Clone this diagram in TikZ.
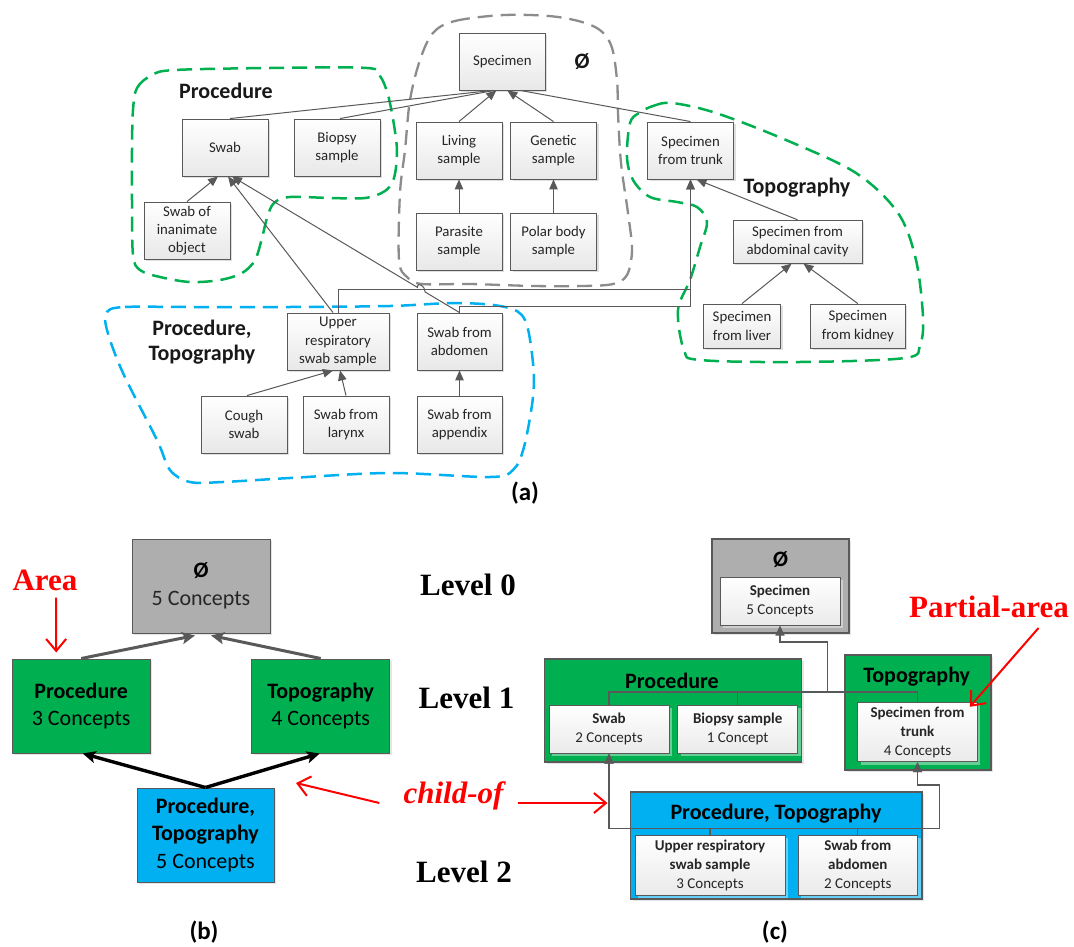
\documentclass[tikz,border=0pt]{standalone}
\usepackage{fontspec}
\setmainfont{Carlito}
\newfontfamily\tnr{Liberation Serif}
\usetikzlibrary{arrows.meta,shadows,calc}

\definecolor{boxline}{HTML}{595959}
\definecolor{linegray}{HTML}{595959}
\definecolor{areagreen}{HTML}{00B050}
\definecolor{areablue}{HTML}{00B0F0}
\definecolor{areagray}{HTML}{AEAEAE}
\definecolor{dashgray}{HTML}{8C8C8C}
\definecolor{txt}{HTML}{262626}

\newcommand\fsm{\fontsize{14.8}{18.3}\selectfont}
\newcommand\fin{\fontsize{15}{19}\selectfont}
\newcommand\fbg{\fontsize{22}{27.5}\selectfont}
\newcommand\fsub{\fontsize{25}{30}\selectfont}
\newcommand\fser{\tnr\bfseries\fontsize{31}{36}\selectfont}

\tikzset{
  abox/.style={draw=boxline, line width=0.9pt, top color=white, bottom color=black!9,
    drop shadow={shadow xshift=2pt, shadow yshift=-2pt, opacity=0.25},
    inner sep=0pt, align=center, font=\fsm, text=txt,
    minimum width=86pt, minimum height=57pt},
  bbox/.style={draw=boxline, line width=1pt, inner sep=0pt, align=center, font=\fbg,
    drop shadow={shadow xshift=2pt, shadow yshift=-2pt, opacity=0.2},
    minimum width=138pt, minimum height=94pt},
  obox/.style={draw=boxline, line width=1.4pt, inner sep=0pt,
    drop shadow={shadow xshift=2pt, shadow yshift=-2pt, opacity=0.2}},
  ibox/.style={draw=boxline, line width=1pt, top color=white, bottom color=black!8,
    drop shadow={shadow xshift=3pt, shadow yshift=-3pt, fill=white, opacity=0.4},
    inner sep=0pt, align=center, font=\fin, text=txt,
    minimum width=120pt, minimum height=48pt},
  ttl/.style={font=\fbg\bfseries, inner sep=0pt},
  regionlbl/.style={font=\fbg\bfseries, inner sep=0pt, align=center, text=black!90},
  sublbl/.style={font=\fsub\bfseries, inner sep=0pt},
  lvl/.style={font=\fser, inner sep=0pt},
  redlbl/.style={font=\fser, text=red, inner sep=0pt},
  aline/.style={draw=linegray, line width=1pt},
  aarrow/.style={aline, -{Triangle[length=10pt,width=8.5pt]}},
  cline/.style={draw=linegray, line width=1.2pt},
  carrow/.style={cline, -{Triangle[length=10pt,width=9pt]}},
  garrow/.style={draw=linegray, line width=3pt, -{Stealth[length=13pt,width=12pt,inset=3pt]}},
  karrow/.style={draw=black, line width=3.4pt, -{Stealth[length=13pt,width=12pt,inset=3pt]}},
  redarrow/.style={draw=red, line width=2pt, -{Straight Barb[length=12pt,width=20pt]}},
  greenregion/.style={draw=areagreen, line width=2.5pt, dash pattern=on 15pt off 8pt},
  grayregion/.style={draw=dashgray, line width=2.3pt, dash pattern=on 15pt off 8pt},
  blueregion/.style={draw=areablue, line width=2.5pt, dash pattern=on 15pt off 8pt},
}

\begin{document}
\begin{tikzpicture}[x=1pt,y=-1pt]
\fill[white] (0,0) rectangle (1074,947);
\useasboundingbox (0,0) rectangle (1074,947);

% ---------- (a) concept hierarchy with area outlines ----------
\draw[greenregion] plot[smooth cycle, tension=0.55] coordinates {
  (133,110) (137,88) (152,75) (175,70) (270,68) (367,68) (380,76) (388,95)
  (394,125) (397,152) (394,178) (385,191) (365,198) (330,198) (290,197)
  (274,203) (267,218) (262,238) (255,260) (242,273) (220,280) (190,282)
  (160,277) (140,270) (133,255) (132,200) (132,150)};
\draw[grayregion] plot[smooth cycle, tension=0.55] coordinates {
  (433,33) (455,21) (505,15) (558,17) (595,27) (611,45) (617,80) (618,113)
  (621,163) (628,213) (632,250) (627,275) (613,284) (583,286) (533,286)
  (470,284) (422,284) (407,277) (399,260) (400,193) (405,150) (410,100) (420,60)};
\draw[greenregion] plot[smooth cycle, tension=0.55] coordinates {
  (639,113) (653,106) (672,103) (716,113) (786,140) (856,173) (898,213)
  (916,260) (923,317) (920,345) (905,358) (800,362) (700,360) (684,350)
  (678,310) (690,280) (700,247) (707,222) (697,207) (677,202) (650,197)
  (633,180) (627,157) (630,123)};
\draw[blueregion] plot[smooth cycle, tension=0.55] coordinates {
  (107,312) (125,307) (190,307) (290,307) (390,306) (457,303) (505,307)
  (525,320) (533,363) (533,397) (524,447) (513,470) (490,477) (390,473)
  (290,478) (223,482) (190,482) (170,470) (157,440) (123,373) (107,330)};

\node[regionlbl] (lproc) at (226,91) {Procedure};
\node[regionlbl] (lphi) at (582,62) {Ø};
\node[regionlbl] (ltopo) at (797,188) {Topography};
\node[regionlbl, font=\fontsize{22}{25}\selectfont\bfseries] (lpt) at (202,342) {Procedure,\\Topography};
\node[sublbl] (suba) at (525,493) {(a)};

\node[abox] (spec) at (502.3,61.5) {Specimen};
\node[abox] (swab) at (225,147.5) {Swab};
\node[abox] (biop) at (337,147.5) {Biopsy\\sample};
\node[abox] (living) at (459,150.5) {Living\\sample};
\node[abox] (genetic) at (553.5,150.5) {Genetic\\sample};
\node[abox] (trunk) at (690.5,150.5) {Specimen\\from trunk};
\node[abox] (parasite) at (459,241.5) {Parasite\\sample};
\node[abox] (polar) at (553.5,241.5) {Polar body\\sample};
\node[abox] (inanim) at (187,230.5) {Swab of\\inanimate\\object};
\node[abox, minimum width=129pt, minimum height=43pt] (abdcav) at (797.5,241.7) {Specimen from\\abdominal cavity};
\node[abox, minimum width=77pt, minimum height=44pt] (liver) at (742,326) {Specimen\\from liver};
\node[abox, minimum width=94.5pt, minimum height=44pt] (kidney) at (857.8,326) {Specimen\\from kidney};
\node[abox, minimum width=102pt] (upper) at (338,341.5) {Upper\\respiratory\\swab sample};
\node[abox, minimum width=85pt] (swabab) at (459.5,341.5) {Swab from\\abdomen};
\node[abox] (cough) at (244,424.5) {Cough\\swab};
\node[abox] (larynx) at (346,424.5) {Swab from\\larynx};
\node[abox, minimum width=85pt] (append) at (459.5,424.5) {Swab from\\appendix};

\draw[aline] ([xshift=5pt]swab.north) -- ([xshift=-10pt]spec.south);
\draw[aline] ([xshift=3pt]biop.north) -- ([xshift=-8pt]spec.south);
\draw[aarrow] (living.north) -- ([xshift=-6pt]spec.south);
\draw[aarrow] (genetic.north) -- ([xshift=5pt]spec.south);
\draw[aline] (trunk.north) -- ([xshift=18pt]spec.south);
\draw[aarrow] (parasite.north) -- (living.south);
\draw[aarrow] (polar.north) -- (genetic.south);
\draw[aarrow] (inanim.north) -- ([xshift=-7pt]swab.south);
\draw[aarrow] ([xshift=-5pt]upper.north) -- ([xshift=3pt]swab.south);
\coordinate (swabR) at ([xshift=7pt]swab.south);
\draw[aarrow] (swabab.north) -- ($(swabab.north)!0.151!(swabR)$)
  .. controls +(0,-6) and +(0,-6) .. ($(swabab.north)!0.185!(swabR)$) -- (swabR);
\draw[aarrow] (upper.north) -- ++(0,-23) -| (trunk.south);
\draw[aarrow] (swabab.north) -- ++(0,-6) -| (trunk.south);
\draw[aarrow] (abdcav.north) -- ([xshift=6pt]trunk.south);
\draw[aarrow] (liver.north) -- ([xshift=-6pt]abdcav.south);
\draw[aarrow] (kidney.north) -- ([xshift=6pt]abdcav.south);
\draw[aarrow] ([xshift=3pt]cough.north) -- ([xshift=-5pt]upper.south);
\draw[aarrow] (larynx.north) -- ([xshift=2pt]upper.south);
\draw[aarrow] (append.north) -- (swabab.south);

% ---------- (b) area taxonomy ----------
\node[bbox, fill=areagray] (phiB) at (201,586) {\textbf{Ø}\\\textcolor{txt}{5 Concepts}};
\node[bbox, fill=areagreen] (procB) at (81.2,706) {\textbf{Procedure}\\3 Concepts};
\node[bbox, fill=areagreen] (topoB) at (320.7,706) {\textbf{Topography}\\4 Concepts};
\node[bbox, fill=areablue, minimum width=137pt] (ptB) at (205.5,835) {\textbf{Procedure,}\\\textbf{Topography}\\5 Concepts};

\draw[garrow] (procB.north) -- ([xshift=-6pt,yshift=-2pt]phiB.south);
\draw[garrow] (topoB.north) -- ([xshift=10pt,yshift=-2pt]phiB.south);
\draw[karrow] (ptB.north) -- ([xshift=1.5pt]procB.south);
\draw[karrow] (ptB.north) -- ([xshift=-1pt]topoB.south);

\node[sublbl] (subb) at (204,932) {(b)};

% ---------- (c) partial-area taxonomy ----------
\node[obox, fill=areagray, minimum width=137pt, minimum height=94pt] (phiC) at (780.5,586) {};
\node[ttl] (phiCt) at (780.5,560) {Ø};
\node[ibox] (specC) at (780,601) {\textbf{Specimen}\\5 Concepts};

\node[obox, fill=areagreen, minimum width=257pt, minimum height=103pt] (procC) at (673,710.5) {};
\node[ttl] (procCt) at (672,681) {Procedure};
\node[ibox] (swabC) at (609,729) {\textbf{Swab}\\2 Concepts};
\node[ibox] (biopC) at (737.7,729) {\textbf{Biopsy sample}\\1 Concept};

\node[obox, fill=areagreen, minimum width=146pt, minimum height=115pt] (topoC) at (918,712.5) {};
\node[ttl] (topoCt) at (916.7,677) {Topography};
\node[ibox, minimum width=119.6pt, minimum height=59.4pt] (trunkC) at (917.5,732) {\textbf{Specimen from}\\\textbf{trunk}\\4 Concepts};

\node[obox, fill=areablue, minimum width=291.4pt, minimum height=107pt] (ptC) at (776.3,845.5) {};
\node[ttl] (ptCt) at (776,814) {Procedure, Topography};
\node[ibox, minimum width=150pt, minimum height=60pt] (upperC) at (710,865) {\textbf{Upper respiratory}\\\textbf{swab sample}\\3 Concepts};
\node[ibox, minimum width=119.6pt, minimum height=60pt] (swababC) at (857.8,865) {\textbf{Swab from}\\\textbf{abdomen}\\2 Concepts};

\coordinate (busC) at (827.5,692);
\draw[cline] (swabC.north) |- (busC);
\draw[cline] (biopC.north) -- (biopC.north |- busC);
\draw[cline] (trunkC.north) |- (busC);
\draw[carrow] (busC) -- ++(0,-50) -| (specC.south);

\coordinate (jogD) at (939.7,785);
\draw[carrow] (upperC.north) -- ++(0,-6) -| (swabC.south);
\draw[carrow] (swababC.north) -- ++(0,-6) -| (swabC.south);
\draw[carrow] (upperC.north) -- ++(0,-6) -| (jogD) -| (trunkC.south);
\draw[carrow] (swababC.north) -- ++(0,-6) -| (jogD) -| (trunkC.south);

\node[sublbl] (subc) at (775,932) {(c)};

% ---------- level labels and annotations ----------
\node[lvl, anchor=base] (lev0) at (468,595) {Level 0};
\node[lvl, anchor=base] (lev1) at (466.5,708) {Level 1};
\node[lvl, anchor=base] (lev2) at (464,882) {Level 2};

\node[redlbl, anchor=base] (areaL) at (45,590) {Area};
\draw[redarrow] ([xshift=11pt,yshift=-7pt]areaL.south) -- ([xshift=-25pt,yshift=6pt]procB.north);

\node[redlbl, anchor=base, font=\fser\itshape] (childL) at (453.5,803) {child-of};
\coordinate (coTipB) at (296,783);
\coordinate (coTipC) at (607.5,803);
\draw[redarrow] ([xshift=-24pt]childL.base west) -- (coTipB);
\draw[redarrow] ([xshift=14pt]childL.base east) -- (coTipC);

\node[redlbl, anchor=base] (partL) at (989,617) {Partial-area};
\draw[redarrow] ([xshift=49.5pt,yshift=-11pt]partL.base) -- ([xshift=-8pt,yshift=-5pt]trunkC.north east);
\end{tikzpicture}
\end{document}
